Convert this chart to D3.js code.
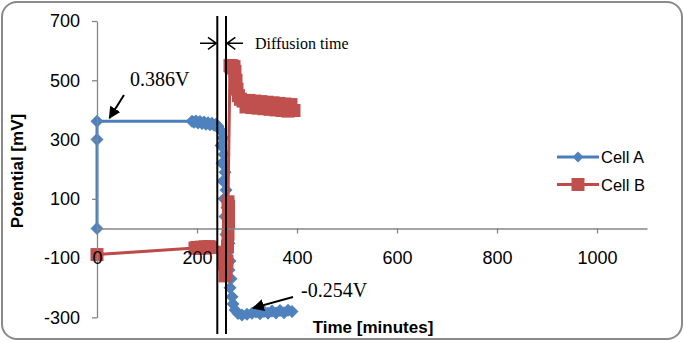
<!DOCTYPE html>
<html>
<head>
<meta charset="utf-8">
<script src="https://cdn.jsdelivr.net/npm/d3@7"></script>
<style>
    html, body { margin: 0; padding: 0; background: #fff; }
    svg { display: block; }
    .tick text { font-family: 'Liberation Sans', Arial, sans-serif; font-size: 18px; fill: #000; }
    .axis-title { font-family: 'Liberation Sans', Arial, sans-serif; font-size: 17px; font-weight: bold; fill: #000; }
    .note { font-family: 'Liberation Serif', 'Times New Roman', serif; fill: #000; }
    .legend text { font-family: 'Liberation Sans', Arial, sans-serif; font-size: 16.5px; fill: #000; }
</style>
</head>
<body>
<div id="chart"></div>
<script>
// values (time in minutes, potential in mV)
const cellATime = [0, 0, 0, 190, 194, 198, 202, 206, 210, 214, 218, 222, 226, 230, 234, 238, 242,
    248, 252, 248, 254, 250, 256, 252, 258, 254, 260, 256, 262, 258, 264, 262, 266, 264, 268, 266, 270, 272,
    276, 282, 290, 300, 310, 318, 326, 334, 342, 350, 358, 366, 374, 382, 390];
const cellAPot = [0, 300, 362, 362, 358, 363, 356, 361, 354, 359, 352, 357, 350, 355, 348, 352, 345,
    330, 305, 280, 250, 220, 190, 160, 130, 100, 70, 40, 10, -20, -50, -80, -110, -140, -170, -200, -230, -255,
    -275, -287, -292, -289, -286, -282, -288, -280, -286, -278, -285, -277, -284, -276, -280];

const cellBTime = [0, 196, 200, 204, 208, 212, 216, 220, 224, 228,
    254, 255, 256, 258, 260, 261, 262, 263, 263, 263, 262,
    266, 268, 270, 272, 274, 276, 278, 280, 283, 287, 292, 298, 304, 310, 316, 322, 328, 334, 340, 346,
    352, 358, 364, 370, 376, 382, 388, 394];
const cellBPot = [-88, -66, -64, -67, -63, -66, -62, -65, -61, -64,
    -80, -120, -160, -150, -110, -60, -20, 20, 50, 75, 90,
    550, 545, 549, 541, 546, 530, 500, 470, 448, 436, 430, 410, 432, 408, 430, 406, 428, 404, 426, 402,
    424, 400, 422, 398, 420, 396, 418, 398];

const xTicks = [0, 200, 400, 600, 800, 1000];
const yTicks = [-300, -100, 100, 300, 500, 700];
const seriesNames = ['Cell A', 'Cell B'];

class PotentialChart {

    width; height;
    svg; plot;
    x; y;

    /**
     * @param {string} container - selector of the host element
     */
    constructor(container, width, height) {
        this.width = width;
        this.height = height;

        this.svg = d3.select(container).append('svg')
            .attr('width', width)
            .attr('height', height);

        // chart area outline with round corners
        this.svg.append('rect')
            .attr('x', 2).attr('y', 2)
            .attr('width', width - 4).attr('height', height - 5)
            .attr('rx', 15)
            .attr('fill', '#fff')
            .attr('stroke', '#8a8a8a')
            .attr('stroke-width', 2);

        this.x = d3.scaleLinear().domain([0, 1100]).range([97, 647]);
        this.y = d3.scaleLinear().domain([-300, 700]).range([317.4, 21]);

        this.plot = this.svg.append('g');
    }

    axes() {
        const fmt = d => String(d); // plain hyphen minus, no thousands comma
        const yAxis = this.svg.append('g')
            .attr('transform', `translate(${this.x(0)},0)`)
            .call(d3.axisLeft(this.y).tickValues(yTicks).tickFormat(fmt)
                .tickSize(5).tickSizeOuter(0).tickPadding(12));

        const xAxis = this.svg.append('g')
            .attr('transform', `translate(0,${this.y(0)})`)
            .call(d3.axisBottom(this.x).tickValues(xTicks).tickFormat(fmt)
                .tickSize(5).tickSizeOuter(0).tickPadding(18));

        [xAxis, yAxis].forEach(a => {
            a.selectAll('path, line').attr('stroke', '#868686').attr('stroke-width', 1.3);
        });

        this.svg.append('text')
            .classed('axis-title', true)
            .attr('transform', 'translate(23,171) rotate(-90)')
            .attr('text-anchor', 'middle')
            .text('Potential [mV]');

        this.svg.append('text')
            .classed('axis-title', true)
            .attr('x', 373).attr('y', 333)
            .attr('text-anchor', 'middle')
            .text('Time [minutes]');
        return this;
    }

    #diamond(cx, cy, r) {
        return `M${cx},${cy - r}L${cx + r},${cy}L${cx},${cy + r}L${cx - r},${cy}Z`;
    }

    series(times, values, lineColor, fill, marker) {
        const pts = times.map((t, i) => [t, values[i]]);
        const line = d3.line().x(d => this.x(d[0])).y(d => this.y(d[1]));

        const g = this.plot.append('g');
        g.append('path')
            .datum(pts)
            .attr('d', line)
            .attr('fill', 'none')
            .attr('stroke', lineColor)
            .attr('stroke-width', 3)
            .attr('stroke-linejoin', 'round');

        if (marker === 'diamond') {
            g.selectAll('path.mk')
                .data(pts)
                .join('path')
                .classed('mk', true)
                .attr('d', d => this.#diamond(this.x(d[0]), this.y(d[1]), 6.5))
                .attr('fill', fill);
        } else {
            g.selectAll('rect.mk')
                .data(pts)
                .join('rect')
                .classed('mk', true)
                .attr('x', d => this.x(d[0]) - 6.5)
                .attr('y', d => this.y(d[1]) - 6.5)
                .attr('width', 13).attr('height', 13)
                .attr('fill', fill);
        }
        return this;
    }

    legend() {
        const lg = this.svg.append('g').classed('legend', true);
        const rows = [
            { name: seriesNames[0], y: 157, line: '#4A7EBB', fill: '#4F81BD', marker: 'diamond' },
            { name: seriesNames[1], y: 184.5, line: '#BE4B48', fill: '#C0504D', marker: 'square' }
        ];
        rows.forEach(r => {
            lg.append('line')
                .attr('x1', 557).attr('x2', 599)
                .attr('y1', r.y).attr('y2', r.y)
                .attr('stroke', r.line).attr('stroke-width', 3);
            if (r.marker === 'diamond') {
                lg.append('path').attr('d', this.#diamond(578, r.y, 5.5)).attr('fill', r.fill);
            } else {
                lg.append('rect').attr('x', 571.5).attr('y', r.y - 6.5)
                    .attr('width', 13).attr('height', 13).attr('fill', r.fill);
            }
            lg.append('text').attr('x', 601).attr('y', r.y + 6).text(r.name);
        });
        return this;
    }

    annotations() {
        const defs = this.svg.append('defs');
        defs.append('marker')
            .attr('id', 'head')
            .attr('viewBox', '0 0 10 10')
            .attr('refX', 9).attr('refY', 5)
            .attr('markerWidth', 6).attr('markerHeight', 6)
            .attr('orient', 'auto')
            .attr('markerUnits', 'strokeWidth')
            .append('path')
            .attr('d', 'M0,0L10,5L0,10Z')
            .attr('fill', '#000');

        const a = this.svg.append('g');

        // the two vertical lines that frame the diffusion time
        [217.3, 226].forEach(xp => {
            a.append('line')
                .attr('x1', xp).attr('x2', xp)
                .attr('y1', 16).attr('y2', 334)
                .attr('stroke', '#000').attr('stroke-width', 2);
        });

        // open arrows pointing at the lines
        const arrowY = 43.3;
        a.append('path')
            .attr('d', `M200,${arrowY}H216.3M208,${arrowY - 6}L216.3,${arrowY}L208,${arrowY + 6}`)
            .attr('fill', 'none').attr('stroke', '#000').attr('stroke-width', 1.5);
        a.append('path')
            .attr('d', `M243,${arrowY}H227M235.3,${arrowY - 6}L227,${arrowY}L235.3,${arrowY + 6}`)
            .attr('fill', 'none').attr('stroke', '#000').attr('stroke-width', 1.5);

        a.append('text').classed('note', true)
            .attr('x', 255).attr('y', 49.3)
            .style('font-size', '16px')
            .text('Diffusion time');

        a.append('text').classed('note', true)
            .attr('x', 130).attr('y', 85.5)
            .style('font-size', '20px')
            .text('0.386V');
        a.append('line')
            .attr('x1', 124).attr('y1', 95).attr('x2', 109.5).attr('y2', 118)
            .attr('stroke', '#000').attr('stroke-width', 2)
            .attr('marker-end', 'url(#head)');

        a.append('text').classed('note', true)
            .attr('x', 301).attr('y', 297)
            .style('font-size', '20px')
            .text('-0.254V');
        a.append('line')
            .attr('x1', 293).attr('y1', 297).attr('x2', 253).attr('y2', 308)
            .attr('stroke', '#000').attr('stroke-width', 2)
            .attr('marker-end', 'url(#head)');
        return this;
    }
}

new PotentialChart('#chart', 684, 342)
    .axes()
    .series(cellATime, cellAPot, '#4A7EBB', '#4F81BD', 'diamond')
    .series(cellBTime, cellBPot, '#BE4B48', '#C0504D', 'square')
    .legend()
    .annotations();
</script>
</body>
</html>
